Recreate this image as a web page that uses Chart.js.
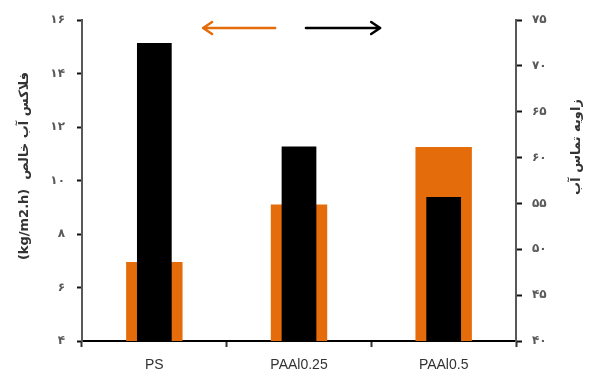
<!DOCTYPE html>
<html>
<head>
<meta charset="utf-8">
<script src="https://cdn.jsdelivr.net/npm/chart.js@4/dist/chart.umd.min.js"></script>
<style>
    html, body { margin: 0; padding: 0; background: #fff; }
    #wrap { width: 590px; height: 376px; }
</style>
</head>
<body>
<div id="wrap"><canvas id="fluxChart" width="590" height="376"></canvas></div>
<script>
(function () {
    'use strict';

    var categories = ['PS', 'PAAl0.25', 'PAAl0.5'];
    var fluxValues = [6.95, 9.1, 11.25];          // left axis, kg/m2.h
    var contactAngleValues = [72.5, 61.2, 55.7];  // right axis, degrees
    var fluxTicks = [4, 6, 8, 10, 12, 14, 16];
    var angleTicks = [40, 45, 50, 55, 60, 65, 70, 75];

    var fluxTitle = '(kg/m2.h)  فلاکس آب خالص';
    var angleTitle = 'زاویه تماس آب';

    var persianDigits = '۰۱۲۳۴۵۶۷۸۹';
    function toPersian(value) {
        return String(value).replace(/[0-9]/g, function (d) { return persianDigits[+d]; });
    }

    var ORANGE = '#E46C0A';
    var AXIS_GRAY = '#595959';

    function fixedTicks(list) {
        return function (scale) {
            scale.ticks = list.map(function (v) { return { value: v }; });
        };
    }

    // arrows above the bars and the two axis titles (both read bottom to top)
    var annotations = {
        id: 'annotations',
        afterDraw: function (chart) {
            var ctx = chart.ctx;
            var area = chart.chartArea;
            var w = area.right - area.left;
            var y = area.top + 8;

            function arrow(x1, x2, color) {
                var dir = x2 > x1 ? 1 : -1;
                ctx.save();
                ctx.strokeStyle = color;
                ctx.lineWidth = 2.5;
                ctx.lineCap = 'round';
                ctx.lineJoin = 'round';
                ctx.beginPath();
                ctx.moveTo(x1, y);
                ctx.lineTo(x2, y);
                ctx.moveTo(x2 - dir * 9, y - 6);
                ctx.lineTo(x2, y);
                ctx.lineTo(x2 - dir * 9, y + 6);
                ctx.stroke();
                ctx.restore();
            }
            arrow(area.left + w * 0.445, area.left + w * 0.279, ORANGE);
            arrow(area.left + w * 0.516, area.left + w * 0.687, '#000');

            function verticalTitle(text, x, cy, size) {
                ctx.save();
                ctx.translate(x, cy);
                ctx.rotate(-Math.PI / 2);
                ctx.fillStyle = '#333';
                ctx.font = 'bold ' + size + 'px "DejaVu Sans", sans-serif';
                ctx.textAlign = 'center';
                ctx.textBaseline = 'middle';
                ctx.fillText(text, 0, 0);
                ctx.restore();
            }
            verticalTitle(fluxTitle, 25, 166, 13);
            verticalTitle(angleTitle, 577, 147, 13);
        }
    };

    new Chart(document.getElementById('fluxChart'), {
        type: 'bar',
        data: {
            labels: categories,
            datasets: [{
                label: 'contact angle',
                data: contactAngleValues,
                yAxisID: 'y1',
                backgroundColor: '#000',
                barPercentage: 0.24,
                categoryPercentage: 1,
                grouped: false,
                order: 1
            }, {
                label: 'flux',
                data: fluxValues,
                yAxisID: 'y',
                backgroundColor: ORANGE,
                barPercentage: 0.39,
                categoryPercentage: 1,
                grouped: false,
                order: 2
            }]
        },
        plugins: [annotations],
        options: {
            responsive: false,
            animation: false,
            events: [],
            layout: {
                padding: { top: 20, left: 0, right: 0, bottom: 0 }
            },
            plugins: {
                legend: { display: false },
                tooltip: { enabled: false }
            },
            scales: {
                x: {
                    afterFit: function (scale) { scale.height = 35; },
                    border: { color: '#000', width: 2 },
                    grid: {
                        offset: true,
                        drawOnChartArea: false,
                        tickLength: 6,
                        tickWidth: 2,
                        color: '#333'
                    },
                    ticks: {
                        color: '#333',
                        padding: 10,
                        font: { family: '"Liberation Sans", Arial, sans-serif', size: 14 }
                    }
                },
                y: {
                    position: 'left',
                    min: 4,
                    max: 16,
                    afterBuildTicks: fixedTicks(fluxTicks),
                    afterFit: function (scale) { scale.width = 82; },
                    border: { color: AXIS_GRAY, width: 2 },
                    grid: {
                        drawOnChartArea: false,
                        tickLength: 5,
                        tickWidth: 2,
                        color: '#111'
                    },
                    ticks: {
                        color: AXIS_GRAY,
                        padding: 12,
                        font: { family: '"DejaVu Sans", sans-serif', size: 12, weight: 'bold' },
                        callback: function (value) { return toPersian(value); }
                    }
                },
                y1: {
                    position: 'right',
                    min: 40,
                    max: 75,
                    afterBuildTicks: fixedTicks(angleTicks),
                    afterFit: function (scale) { scale.width = 74; },
                    border: { color: AXIS_GRAY, width: 2 },
                    grid: {
                        drawOnChartArea: false,
                        tickLength: 6,
                        tickWidth: 2,
                        color: '#111'
                    },
                    ticks: {
                        color: AXIS_GRAY,
                        padding: 10,
                        font: { family: '"DejaVu Sans", sans-serif', size: 12, weight: 'bold' },
                        callback: function (value) { return toPersian(value); }
                    }
                }
            }
        }
    });
})();
</script>
</body>
</html>
